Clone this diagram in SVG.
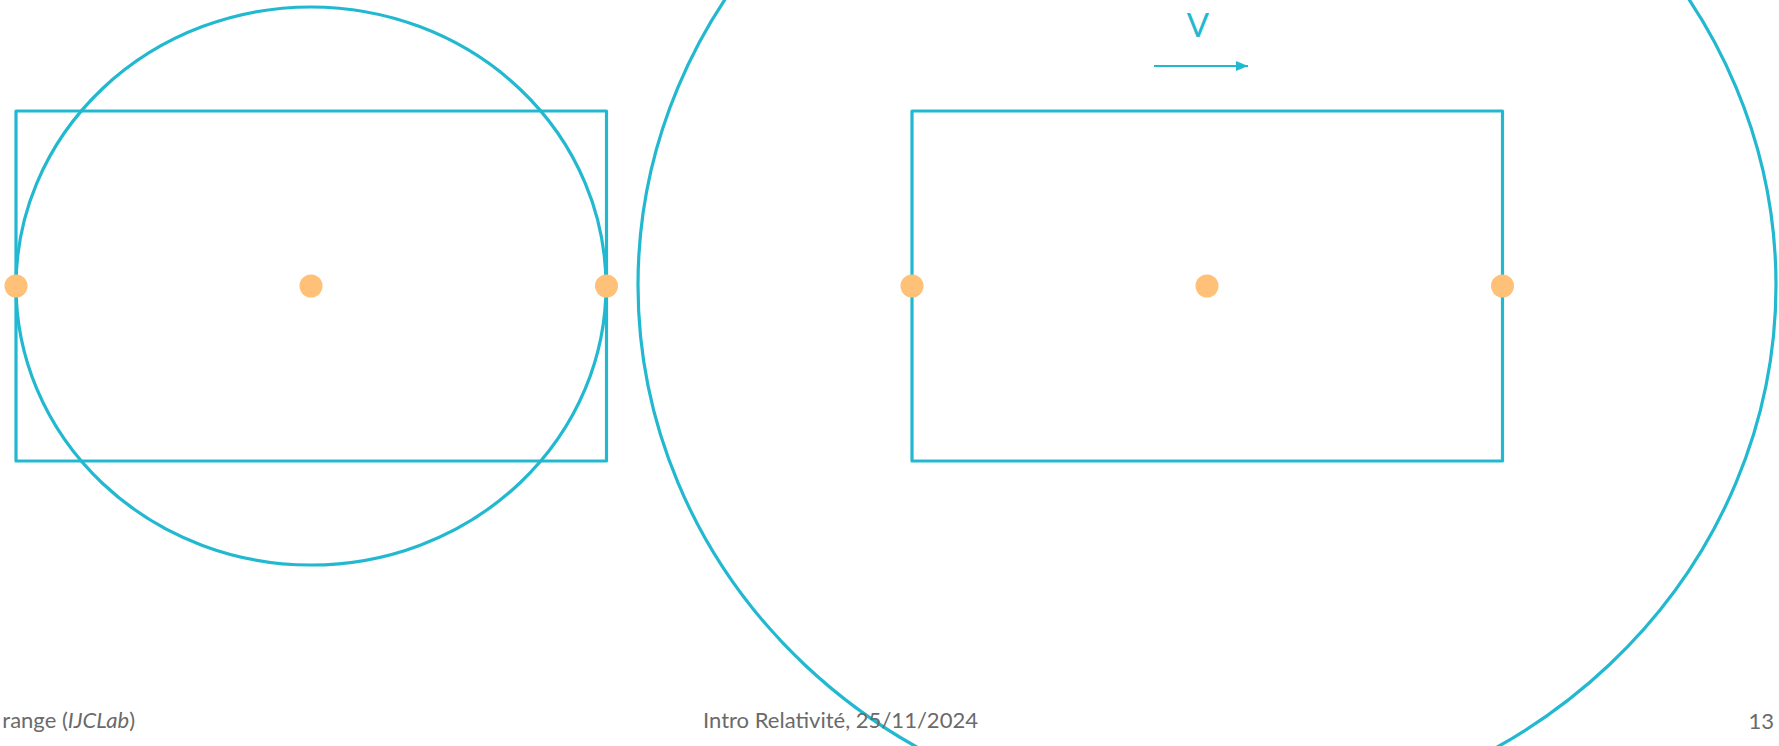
<svg xmlns="http://www.w3.org/2000/svg" width="1779" height="746" viewBox="0 0 1779 746">
<defs>
<style>
.ln{fill:none;stroke:#22b9d0;stroke-width:3.2;stroke-linejoin:round}
.dot{fill:#ffc078}
.ft{font-family:Lato,"Open Sans","Liberation Sans",sans-serif;fill:#6a6a6a;font-size:22px}
</style>
<marker id="ah" viewBox="0 0 12 10" refX="12" refY="5" markerWidth="12" markerHeight="10" markerUnits="userSpaceOnUse" orient="auto">
<path d="M0,0 L12,5 L0,10 Z" fill="#22b9d0"/>
</marker>
</defs>
<rect width="1779" height="746" fill="#ffffff"/>
<g id="left-frame">
<rect class="ln" x="16" y="111" width="590.5" height="350"/>
<ellipse class="ln" cx="311" cy="286" rx="295" ry="279"/>
<circle class="dot" cx="16" cy="286" r="11.5"/>
<circle class="dot" cx="311" cy="286" r="11.5"/>
<circle class="dot" cx="606.5" cy="286" r="11.5"/>
</g>
<g id="right-frame">
<ellipse class="ln" cx="1207" cy="285" rx="569" ry="537"/>
<rect class="ln" x="912" y="111" width="590.5" height="350"/>
<circle class="dot" cx="912" cy="286" r="11.5"/>
<circle class="dot" cx="1207" cy="286" r="11.5"/>
<circle class="dot" cx="1502.5" cy="286" r="11.5"/>
</g>
<g id="velocity">
<text x="1198" y="37" text-anchor="middle" font-family="Lato,'Open Sans','Liberation Sans',sans-serif" font-size="33" fill="#22b9d0">V</text>
<g id="connectors">
<line x1="1154" y1="66" x2="1248" y2="66" stroke="#22b9d0" stroke-width="2" marker-end="url(#ah)"/>
</g>
</g>
<g id="footer">
<text class="ft" x="135" y="728" text-anchor="end">range (<tspan font-style="italic">IJCLab</tspan>)</text>
<text class="ft" x="703" y="728" textLength="275" lengthAdjust="spacingAndGlyphs">Intro Relativité, 25/11/2024</text>
<text class="ft" x="1774" y="729" text-anchor="end">13</text>
</g>
</svg>
